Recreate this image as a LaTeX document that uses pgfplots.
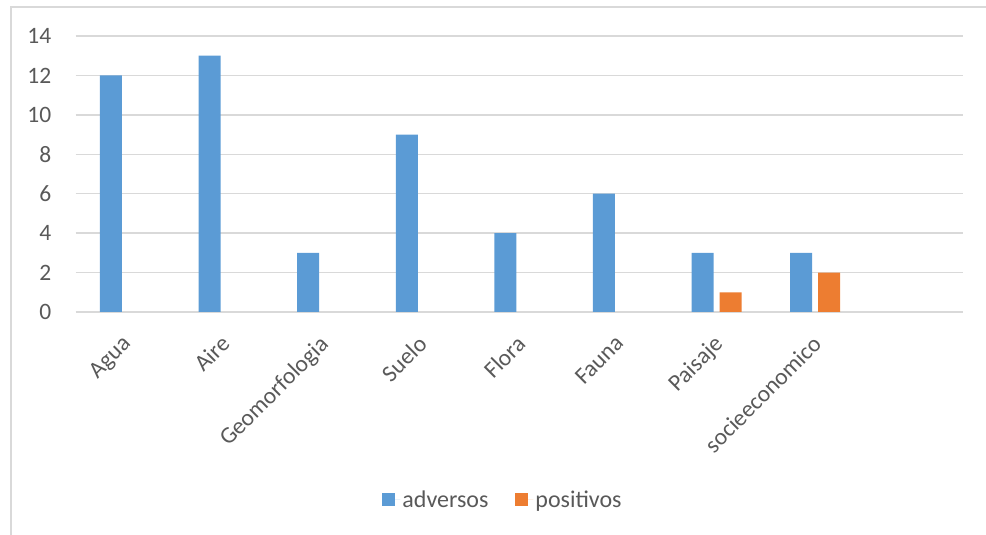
\documentclass[border=0pt]{standalone}
\usepackage{pgfplots}
\pgfplotsset{compat=1.18}
\usepackage{fontspec}
\setmainfont{Carlito}
\definecolor{cblue}{HTML}{5B9BD5}
\definecolor{corange}{HTML}{ED7D31}
\definecolor{ctext}{HTML}{595959}
\definecolor{cgrid}{HTML}{D9D9D9}
\begin{document}
\begin{tikzpicture}[x=1pt,y=1pt]
\path[use as bounding box] (0,0) rectangle (986,535);
\draw[cgrid,line width=1.3pt] (11,0) -- (11,528) -- (986,528);
\begin{axis}[
  at={(75.7pt,223pt)}, anchor=south west,
  scale only axis, width=887.3pt, height=276pt,
  xmin=-0.5, xmax=8.5, ymin=0, ymax=14,
  ybar=6pt, bar width=22pt,
  axis line style={draw=none},
  major tick length=0pt,
  ytick={0,2,...,14},
  ymajorgrids, grid style={cgrid,line width=1.3pt},
  xtick={0,...,8},
  xticklabels={Agua,Aire,Geomorfologia,Suelo,Flora,Fauna,Paisaje,socieeconomico,{}},
  x tick label style={xshift=-4pt, yshift=-22pt, rotate=45, anchor=north east, inner sep=0pt, font=\fontsize{23.5}{23.5}\selectfont, text=ctext},
  y tick label style={font=\fontsize{23.5}{23.5}\selectfont, text=ctext, xshift=-21pt},
  /pgf/number format/assume math mode=true,
  legend columns=2,
  legend style={at={(0.4816,-0.681)}, anchor=center, draw=none, fill=none,
    font=\fontsize{24}{24}\selectfont, text=ctext,
    /tikz/every even column/.append style={column sep=25pt}},
  legend image code/.code={\fill[#1] (0pt,-6.5pt) rectangle (13pt,6.5pt); \path (0pt,0pt) -- (18pt,0pt);},
]
\addplot[fill=cblue, draw=none] coordinates {(0,12) (1,13) (2,3) (3,9) (4,4) (5,6) (6,3) (7,3)};
\addplot[fill=corange, draw=none] coordinates {(6,1) (7,2)};
\legend{adversos,positivos}
\end{axis}
\end{tikzpicture}
\end{document}
